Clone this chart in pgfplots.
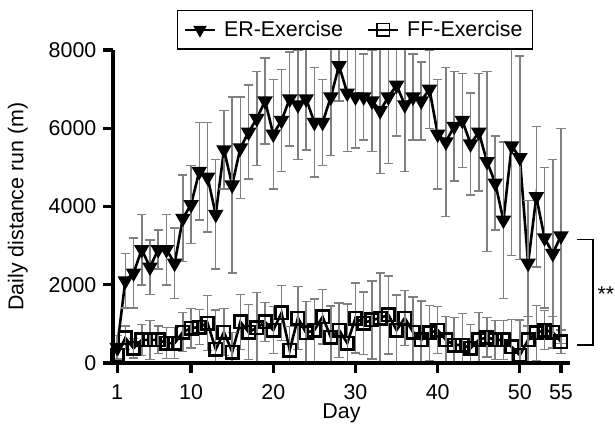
\documentclass[border=0pt]{standalone}
\usepackage{fontspec}
\setmainfont{Liberation Sans}
\usepackage{pgfplots}
\pgfplotsset{compat=1.18}

\pgfplotstableread{
day val err
1 400 300
2 2100 700
3 2300 900
4 2900 900
5 2450 700
6 2900 500
7 2900 900
8 2550 900
9 3700 1100
10 4050 1000
11 4900 1250
12 4750 1400
13 3800 1400
14 5450 1000
15 4550 2250
16 5500 1300
17 5900 1200
18 6250 1200
19 6700 1100
20 5850 1400
21 6200 1300
22 6750 1200
23 6600 1400
24 6750 1300
25 6150 1400
26 6150 1100
27 6800 1500
28 7600 900
29 6900 1500
30 6800 1300
31 6800 1100
32 6700 1300
33 6450 1600
34 6800 1700
35 7100 1300
36 6600 1700
37 6800 1100
38 6700 1000
39 7000 1000
40 5850 1400
41 5650 1900
42 6050 1400
43 6200 1200
44 5600 1300
45 5900 1500
46 5150 2300
47 4600 1200
48 3650 2000
49 5550 2800
50 5250 2600
51 2550 1600
52 4250 1800
53 3200 1800
54 2800 2400
55 3250 2750
}\er

\pgfplotstableread{
day val err
1 200 150
2 640 300
3 380 250
4 590 400
5 590 500
6 590 350
7 510 400
8 510 400
9 790 500
10 890 500
11 920 450
12 1020 700
13 350 1000
14 790 600
15 280 500
16 1050 700
17 790 700
18 900 900
19 1050 500
20 840 600
21 1280 700
22 330 600
23 1150 800
24 770 800
25 840 800
26 1180 700
27 660 800
28 840 700
29 510 1000
30 1150 900
31 1020 800
32 1100 1000
33 1150 1150
34 1230 1000
35 840 900
36 1150 700
37 790 900
38 590 1000
39 770 700
40 840 600
41 590 600
42 460 700
43 460 800
44 380 600
45 590 700
46 660 500
47 590 500
48 590 500
49 410 700
50 200 900
51 590 600
52 770 700
53 840 500
54 790 400
55 540 300
}\ff

\begin{document}
\begin{tikzpicture}
\path[use as bounding box] (-56.5pt,-36.5pt) rectangle (251pt,181.5pt);
\begin{axis}[
    name=ax,
    scale only axis,
    width=228.5pt, height=156.5pt,
    xmin=0.5, xmax=56.1,
    ymin=0, ymax=8000,
    axis on top,
    axis x line*=bottom,
    axis y line*=left,
    axis line style={line width=1.9pt,-},
    tick align=outside,
    major tick length=4.8pt,
    tick style={line width=1.6pt,black},
    xtick={1,10,20,30,40,50,55},
    ytick={0,2000,4000,6000,8000},
    scaled y ticks=false,
    /pgf/number format/assume math mode=true,
    /pgf/number format/set thousands separator={},
    tick label style={font=\fontsize{10.7}{12}\selectfont},
    xticklabel style={yshift=-2.5pt},
    label style={font=\fontsize{10.7}{12}\selectfont},
    xlabel={Day},
    ylabel={Daily distance run (m)},
    xlabel style={at={(axis description cs:0.5,-0.16)}, anchor=center, inner sep=0pt},
    ylabel style={at={(axis description cs:-0.208,0.5)}, anchor=center},
    legend columns=2,
    legend style={at={(0.53,1.128)}, anchor=north, draw=black, line width=0.6pt,
        font=\fontsize{10.7}{12}\selectfont, inner xsep=3pt, inner ysep=3pt,
        /tikz/every even column/.append style={column sep=10pt},
        /tikz/every odd column/.append style={column sep=2pt}},
    legend image code/.code={\draw[mark repeat=2, mark phase=2, line width=0.75pt, #1]
        plot coordinates {(0cm,0cm) (0.27cm,0cm) (0.54cm,0cm)};},
]
\addplot[black, line width=1.3pt, mark=triangle*, mark size=3.2pt,
    mark options={rotate=180, fill=black, solid},
    error bars/.cd, y dir=both, y explicit,
    error bar style={black!50, line width=0.75pt},
    error mark options={rotate=90, black!50, mark size=2.3pt, line width=0.75pt}]
    table[x=day, y=val, y error=err] {\er};
\addlegendentry{ER-Exercise}
\addplot[black, line width=1.3pt, mark=square, mark size=3.1pt,
    mark options={solid},
    error bars/.cd, y dir=both, y explicit,
    error bar style={black!50, line width=0.75pt},
    error mark options={rotate=90, black!50, mark size=2.3pt, line width=0.75pt}]
    table[x=day, y=val, y error=err] {\ff};
\addlegendentry{FF-Exercise}
\coordinate (b1) at (axis cs:57.0,3150);
\coordinate (b2) at (axis cs:58.9,3150);
\coordinate (b3) at (axis cs:58.9,460);
\coordinate (b4) at (axis cs:57.0,460);
\coordinate (bs) at (axis cs:59.4,1750);
\end{axis}
\draw[black, line width=0.6pt] (b1) -- (b2) -- (b3) -- (b4);
\node[anchor=west, inner sep=0pt, font=\fontsize{10.7}{12}\selectfont] at (bs) {**};
\end{tikzpicture}
\end{document}
